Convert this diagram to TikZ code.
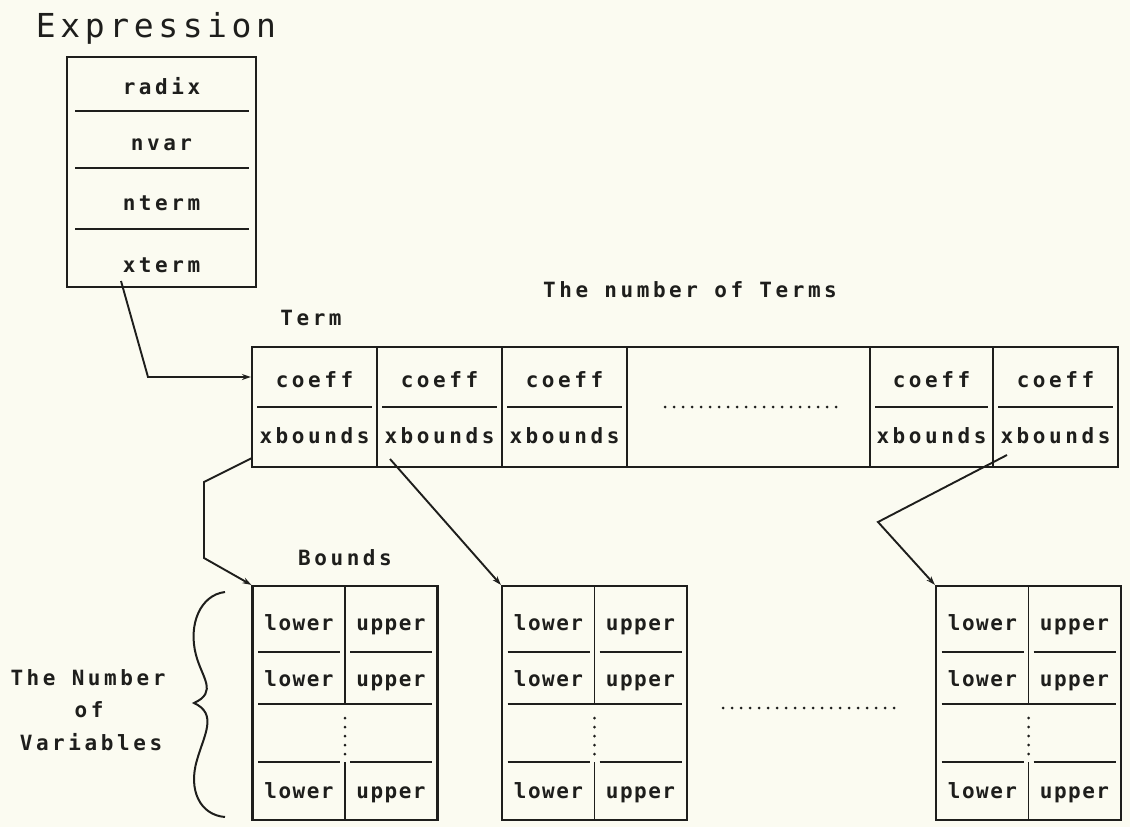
\documentclass[tikz,border=0pt]{standalone}
\usepackage{fontspec}
\usetikzlibrary{arrows.meta,calc}
\newfontfamily\cellfont[LetterSpace=17,UprightFont=* Bold]{DejaVu Sans Mono}
\newfontfamily\lufont[LetterSpace=7,UprightFont=* Bold]{DejaVu Sans Mono}
\newfontfamily\titlefont[LetterSpace=14]{DejaVu Sans Mono}
\definecolor{bg}{RGB}{251,251,241}
\definecolor{ink}{RGB}{30,30,28}
\begin{document}
\begin{tikzpicture}[x=1pt,y=-1pt,
  box/.style={draw=ink, line width=2.2pt, rectangle, inner sep=0pt},
  lbl/.style={font=\cellfont\fontsize{21}{25}\selectfont, text=ink, anchor=base, inner sep=0pt},
  lu/.style={font=\lufont\fontsize{21}{25}\selectfont, text=ink, anchor=base, inner sep=0pt},
  ttl/.style={font=\titlefont\fontsize{33}{40}\selectfont, text=ink, anchor=base, inner sep=0pt},
  sep/.style={draw=ink, line width=1.8pt},
  conn/.style={draw=ink, line width=1.9pt, -{Stealth[length=9pt,width=6pt]}},
  dotline/.style={draw=ink, line width=3pt, line cap=round, dash pattern=on 0pt off 9pt},
  bracestyle/.style={draw=ink, line width=2pt}]
\fill[bg] (0,0) rectangle (1130,827);
\useasboundingbox (0,0) rectangle (1130,827);

% Expression record
\node[ttl] (exptitle) at (156,37) {Expression};
\node[box, minimum width=189, minimum height=230] (exp) at (161.5,172) {};
\foreach \yy in {111,168,229} \draw[sep] (75,\yy) -- (249,\yy);
\node[lbl] (radix) at (161.5,94) {radix};
\node[lbl] (nvar) at (161.5,150) {nvar};
\node[lbl] (nterm) at (161.5,210) {nterm};
\node[lbl] (xterm) at (161.5,272) {xterm};

% Term array
\node[lbl] (termlbl) at (311,325) {Term};
\node[lbl] (numterms) at (690,297) {The number of Terms};
\foreach \n/\cx/\w in {t1/314.5/125, t2/439.5/125, t3/564.5/125, t5/931.5/123, t6/1055.5/125}{
  \node[box, minimum width=\w, minimum height=120] (\n) at (\cx,407) {};
  \draw[sep] ({\cx-\w/2+5},407) -- ({\cx+\w/2-5},407);
  \node[lbl] (\n c) at (\cx,387) {coeff};
  \node[lbl] (\n b) at (\cx,443) {xbounds};
}
\node[box, minimum width=243, minimum height=120] (tdots) at (748.5,407) {};
\draw[dotline] (665,407) -- (840,407);

% Bounds arrays
\node[lbl] (boundslbl) at (345,565) {Bounds};
\foreach \n/\cx in {b1/345, b2/594.5, b3/1028.5}{
  \node[box, minimum width=185, minimum height=234] (\n) at (\cx,703) {};
  \draw[sep] (\cx,586) -- (\cx,704);
  \draw[sep] (\cx,762) -- (\cx,820);
  \draw[sep] ({\cx-87},652) -- ({\cx-5},652);
  \draw[sep] ({\cx+5},652) -- ({\cx+87},652);
  \draw[sep] ({\cx-87},704) -- ({\cx+87},704);
  \draw[sep] ({\cx-87},762) -- ({\cx-5},762);
  \draw[sep] ({\cx+5},762) -- ({\cx+87},762);
  \draw[dotline] (\cx,718) -- (\cx,754);
  \foreach \yy/\r in {630/1, 686/2, 798/4}{
    \node[lu] (\n l\r) at ({\cx-46},\yy) {lower};
    \node[lu] (\n u\r) at ({\cx+46},\yy) {upper};
  }
}
\draw[dotline] (723,708) -- (900,708);

% brace and its label
\draw[bracestyle] (225,592) .. controls (200,595) and (188,625) .. (196,655)
  .. controls (202,678) and (218,692) .. (194,703)
  .. controls (218,714) and (204,735) .. (197,760)
  .. controls (188,790) and (200,815) .. (225,817);
\node[lbl] (nv1) at (88,685) {The Number};
\node[lbl] (nv2) at (89,717) {of};
\node[lbl] (nv3) at (91,750) {Variables};

% connectors
\coordinate (s0) at (121,281);
\coordinate (k0) at (148,377);
\draw[conn] (s0) -- (k0) -- (k0 -| t1.west);
\coordinate (s1) at (252,458);
\coordinate (k1a) at (204,482);
\coordinate (k1b) at (204,558);
\draw[conn] (s1) -- (k1a) -- (k1b) -- (b1.north west);
\coordinate (s2) at (390,459);
\draw[conn] (s2) -- (b2.north west);
\coordinate (s3) at (1007,455);
\coordinate (k3) at (878,522);
\draw[conn] (s3) -- (k3) -- (b3.north west);
\end{tikzpicture}
\end{document}
